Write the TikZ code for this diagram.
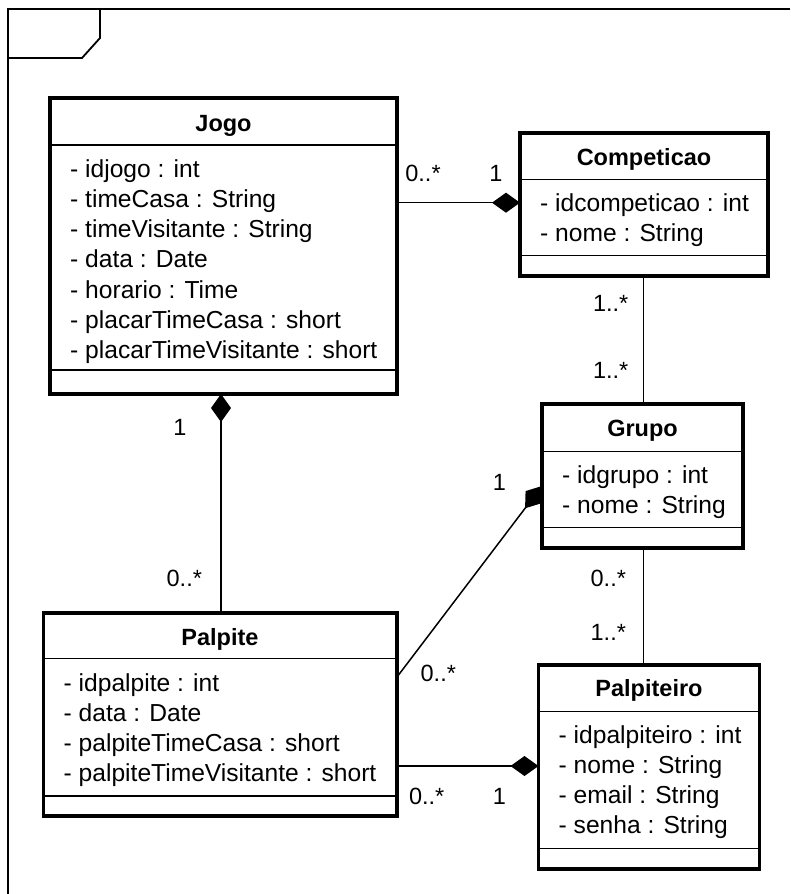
\documentclass[tikz,border=0pt]{standalone}
\usepackage{fontspec}
\setmainfont{Liberation Sans}
\usetikzlibrary{arrows.meta}

\begin{document}
\begin{tikzpicture}[x=1pt,y=-1pt,
  classbox/.style={draw, line width=3.2pt, inner sep=0pt, outer sep=0pt, anchor=north west},
  sepline/.style={line width=1.5pt},
  classtitle/.style={font=\fontsize{23.5}{28}\selectfont\bfseries, anchor=base, inner sep=0pt},
  attr/.style={font=\fontsize{24.6}{28}\selectfont, anchor=base west, inner sep=0pt},
  mult/.style={font=\fontsize{23.5}{28}\selectfont, anchor=base, inner sep=0pt},
  assoc/.style={line width=1.5pt},
  compo/.style={line width=1.5pt, -{Diamond[length=28pt,width=20pt]}},
]
\useasboundingbox (0,0) rectangle (790,894);

% package frame with its name tab
\draw[line width=2pt] (790,9) -- (8,9) -- (8,894);
\draw[line width=1.8pt] (100,9) -- (100,38) -- (82,58) -- (8,58);

% ---------- Jogo ----------
\node[classbox, minimum width=347pt, minimum height=296pt] (jogo) at (50,98) {};
\draw[sepline] (jogo.west |- 0,145) -- (jogo.east |- 0,145);
\draw[sepline] (jogo.west |- 0,370) -- (jogo.east |- 0,370);
\node[classtitle] (jogoT) at (223.5,131.7) {Jogo};
\node[attr] (j1) at (70,177) {- idjogo : int};
\node[attr] (j2) at (70,207.3) {- timeCasa : String};
\node[attr] (j3) at (70,237.5) {- timeVisitante : String};
\node[attr] (j4) at (70,267.8) {- data : Date};
\node[attr] (j5) at (70,298) {- horario : Time};
\node[attr] (j6) at (70,328.3) {- placarTimeCasa : short};
\node[attr] (j7) at (70,358.5) {- placarTimeVisitante : short};

% ---------- Competicao ----------
\node[classbox, minimum width=248pt, minimum height=143pt] (comp) at (520,133) {};
\draw[sepline] (comp.west |- 0,179.5) -- (comp.east |- 0,179.5);
\draw[sepline] (comp.west |- 0,255.7) -- (comp.east |- 0,255.7);
\node[classtitle] (compT) at (644,165) {Competicao};
\node[attr] (c1) at (540,211.5) {- idcompeticao : int};
\node[attr] (c2) at (540,241) {- nome : String};

% ---------- Grupo ----------
\node[classbox, minimum width=201pt, minimum height=144pt] (grupo) at (542,404) {};
\draw[sepline] (grupo.west |- 0,451.7) -- (grupo.east |- 0,451.7);
\draw[sepline] (grupo.west |- 0,527.7) -- (grupo.east |- 0,527.7);
\node[classtitle] (grupoT) at (642.5,436.7) {Grupo};
\node[attr] (g1) at (562,483.3) {- idgrupo : int};
\node[attr] (g2) at (562,513.3) {- nome : String};

% ---------- Palpite ----------
\node[classbox, minimum width=353.5pt, minimum height=203pt] (palpite) at (43.5,613) {};
\draw[sepline] (palpite.west |- 0,658.3) -- (palpite.east |- 0,658.3);
\draw[sepline] (palpite.west |- 0,796) -- (palpite.east |- 0,796);
\node[classtitle] (palpiteT) at (220,645) {Palpite};
\node[attr] (p1) at (63.5,691.7) {- idpalpite : int};
\node[attr] (p2) at (63.5,721.7) {- data : Date};
\node[attr] (p3) at (63.5,751.7) {- palpiteTimeCasa : short};
\node[attr] (p4) at (63.5,781.7) {- palpiteTimeVisitante : short};

% ---------- Palpiteiro ----------
\node[classbox, minimum width=221pt, minimum height=204pt] (palpiteiro) at (538.5,665) {};
\draw[sepline] (palpiteiro.west |- 0,711.7) -- (palpiteiro.east |- 0,711.7);
\draw[sepline] (palpiteiro.west |- 0,848.3) -- (palpiteiro.east |- 0,848.3);
\node[classtitle] (palpiteiroT) at (649,696.7) {Palpiteiro};
\node[attr] (q1) at (558.5,743.3) {- idpalpiteiro : int};
\node[attr] (q2) at (558.5,773.3) {- nome : String};
\node[attr] (q3) at (558.5,803.3) {- email : String};
\node[attr] (q4) at (558.5,833.3) {- senha : String};

% ---------- associations ----------
\draw[compo] (jogo.east |- 0,202.7) -- (comp.west |- 0,202.7);
\node[mult] at (423,181.7) {0..*};
\node[mult] at (496,181.7) {1};

\draw[assoc] (comp.south -| 643.3,0) -- (grupo.north -| 643.3,0);
\node[mult] at (610.7,311.7) {1..*};
\node[mult] at (610.7,378.3) {1..*};

\draw[compo] (palpite.north -| 221,0) -- (jogo.south -| 221,0);
\node[mult] at (180,435) {1};
\node[mult] at (184.3,586) {0..*};

\draw[compo] (palpite.east |- 0,677) -- (grupo.west |- 0,486);
\node[mult] at (499.3,490) {1};
\node[mult] at (438.3,681.7) {0..*};

\draw[assoc] (grupo.south -| 643.3,0) -- (palpiteiro.north -| 643.3,0);
\node[mult] at (608.3,586) {0..*};
\node[mult] at (608.3,640.7) {1..*};

\draw[compo] (palpite.east |- 0,766) -- (palpiteiro.west |- 0,766);
\node[mult] at (426.7,804) {0..*};
\node[mult] at (499.3,804) {1};

\end{tikzpicture}
\end{document}
